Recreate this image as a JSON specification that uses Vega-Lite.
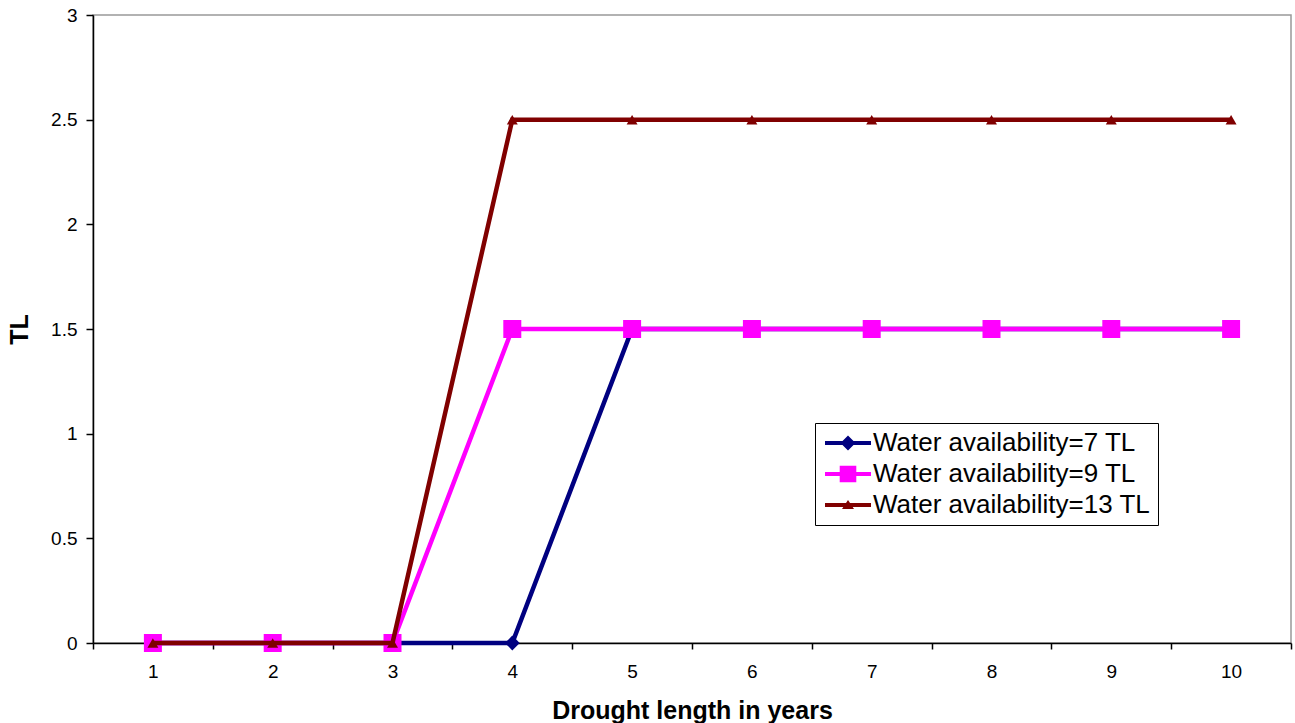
{
  "$schema": "https://vega.github.io/schema/vega-lite/v6.json",
  "width": 1198,
  "height": 628,
  "autosize": {"type": "none"},
  "padding": {"left": 93, "top": 15, "right": 4, "bottom": 80},
  "background": "white",
  "config": {
    "view": {"stroke": "#999999", "strokeWidth": 1.5},
    "font": "Liberation Sans",
    "axis": {"labelFont": "Liberation Sans", "titleFont": "Liberation Sans"},
    "legend": {"labelFont": "Liberation Sans"}
  },
  "data": {
    "values": [
      {"year": 1, "series": "Water availability=7 TL", "tl": 0},
      {"year": 2, "series": "Water availability=7 TL", "tl": 0},
      {"year": 3, "series": "Water availability=7 TL", "tl": 0},
      {"year": 4, "series": "Water availability=7 TL", "tl": 0},
      {"year": 5, "series": "Water availability=7 TL", "tl": 1.5},
      {"year": 6, "series": "Water availability=7 TL", "tl": 1.5},
      {"year": 7, "series": "Water availability=7 TL", "tl": 1.5},
      {"year": 8, "series": "Water availability=7 TL", "tl": 1.5},
      {"year": 9, "series": "Water availability=7 TL", "tl": 1.5},
      {"year": 10, "series": "Water availability=7 TL", "tl": 1.5},
      {"year": 1, "series": "Water availability=9 TL", "tl": 0},
      {"year": 2, "series": "Water availability=9 TL", "tl": 0},
      {"year": 3, "series": "Water availability=9 TL", "tl": 0},
      {"year": 4, "series": "Water availability=9 TL", "tl": 1.5},
      {"year": 5, "series": "Water availability=9 TL", "tl": 1.5},
      {"year": 6, "series": "Water availability=9 TL", "tl": 1.5},
      {"year": 7, "series": "Water availability=9 TL", "tl": 1.5},
      {"year": 8, "series": "Water availability=9 TL", "tl": 1.5},
      {"year": 9, "series": "Water availability=9 TL", "tl": 1.5},
      {"year": 10, "series": "Water availability=9 TL", "tl": 1.5},
      {"year": 1, "series": "Water availability=13 TL", "tl": 0},
      {"year": 2, "series": "Water availability=13 TL", "tl": 0},
      {"year": 3, "series": "Water availability=13 TL", "tl": 0},
      {"year": 4, "series": "Water availability=13 TL", "tl": 2.5},
      {"year": 5, "series": "Water availability=13 TL", "tl": 2.5},
      {"year": 6, "series": "Water availability=13 TL", "tl": 2.5},
      {"year": 7, "series": "Water availability=13 TL", "tl": 2.5},
      {"year": 8, "series": "Water availability=13 TL", "tl": 2.5},
      {"year": 9, "series": "Water availability=13 TL", "tl": 2.5},
      {"year": 10, "series": "Water availability=13 TL", "tl": 2.5}
    ]
  },
  "encoding": {
    "x": {
      "field": "year",
      "type": "ordinal",
      "scale": {"type": "band", "paddingInner": 0, "paddingOuter": 0},
      "axis": {
        "title": "Drought length in years",
        "titleFontSize": 25,
        "titleFontWeight": "bold",
        "titleColor": "black",
        "titlePadding": 17,
        "labelAngle": 0,
        "labelFontSize": 19,
        "labelColor": "black",
        "labelPadding": 13,
        "tickBand": "extent",
        "tickColor": "black",
        "tickSize": 6,
        "tickWidth": 1.5,
        "domainColor": "black",
        "domainWidth": 1.5,
        "grid": false
      }
    },
    "y": {
      "field": "tl",
      "type": "quantitative",
      "scale": {"domain": [0, 3], "nice": false},
      "axis": {
        "title": "TL",
        "titleFontSize": 25,
        "titleFontWeight": "bold",
        "titleColor": "black",
        "titlePadding": 18,
        "values": [0, 0.5, 1, 1.5, 2, 2.5, 3],
        "format": "~g",
        "labelFontSize": 19,
        "labelColor": "black",
        "labelPadding": 9,
        "tickColor": "black",
        "tickSize": 7,
        "tickWidth": 1.5,
        "domainColor": "black",
        "domainWidth": 1.5,
        "grid": false
      }
    },
    "color": {
      "field": "series",
      "type": "nominal",
      "scale": {
        "domain": ["Water availability=7 TL", "Water availability=9 TL", "Water availability=13 TL"],
        "range": ["#000080", "#FF00FF", "#800000"]
      },
      "legend": {
        "title": null,
        "orient": "none",
        "legendX": 722,
        "legendY": 408,
        "labelFontSize": 26,
        "labelColor": "black",
        "labelOffset": 12,
        "labelLimit": 500,
        "symbolSize": 400,
        "symbolOffset": 13,
        "symbolStrokeWidth": 0,
        "rowPadding": 5,
        "padding": 7,
        "strokeColor": "black",
        "fillColor": "white",
        "encode": {
          "symbols": {
            "update": {
              "shape": {"signal": "datum.value === 'Water availability=7 TL' ? 'M-2.3,-0.2H2.3V0.2H-2.3Z M-0.75,0L0,-0.75L0.75,0L0,0.75Z' : datum.value === 'Water availability=9 TL' ? 'M-2.3,-0.2H2.3V0.2H-2.3Z M-0.83,-0.83H0.83V0.83H-0.83Z' : 'M-2.3,-0.2H2.3V0.2H-2.3Z M0,-0.5L0.6,0.4L-0.6,0.4Z'"},
              "size": {"value": 400},
              "fill": {"signal": "scale('color', datum.value)"},
              "stroke": {"value": "transparent"},
              "strokeWidth": {"value": 0},
              "opacity": {"value": 1}
            }
          }
        }
      }
    }
  },
  "layer": [
    {
      "transform": [{"filter": "datum.series === 'Water availability=7 TL'"}],
      "mark": {"type": "line", "strokeWidth": 4.5},
      "encoding": {"order": {"field": "year", "type": "quantitative"}}
    },
    {
      "transform": [{"filter": "datum.series === 'Water availability=7 TL'"}],
      "mark": {"type": "point", "filled": true, "opacity": 1, "shape": "diamond", "size": 220}
    },
    {
      "transform": [{"filter": "datum.series === 'Water availability=9 TL'"}],
      "mark": {"type": "line", "strokeWidth": 4.5},
      "encoding": {"order": {"field": "year", "type": "quantitative"}}
    },
    {
      "transform": [{"filter": "datum.series === 'Water availability=9 TL'"}],
      "mark": {"type": "point", "filled": true, "opacity": 1, "shape": "square", "size": 324}
    },
    {
      "transform": [{"filter": "datum.series === 'Water availability=13 TL'"}],
      "mark": {"type": "line", "strokeWidth": 4.5},
      "encoding": {"order": {"field": "year", "type": "quantitative"}}
    },
    {
      "transform": [{"filter": "datum.series === 'Water availability=13 TL'"}],
      "mark": {"type": "point", "filled": true, "opacity": 1, "shape": "triangle-up", "size": 120}
    }
  ]
}
